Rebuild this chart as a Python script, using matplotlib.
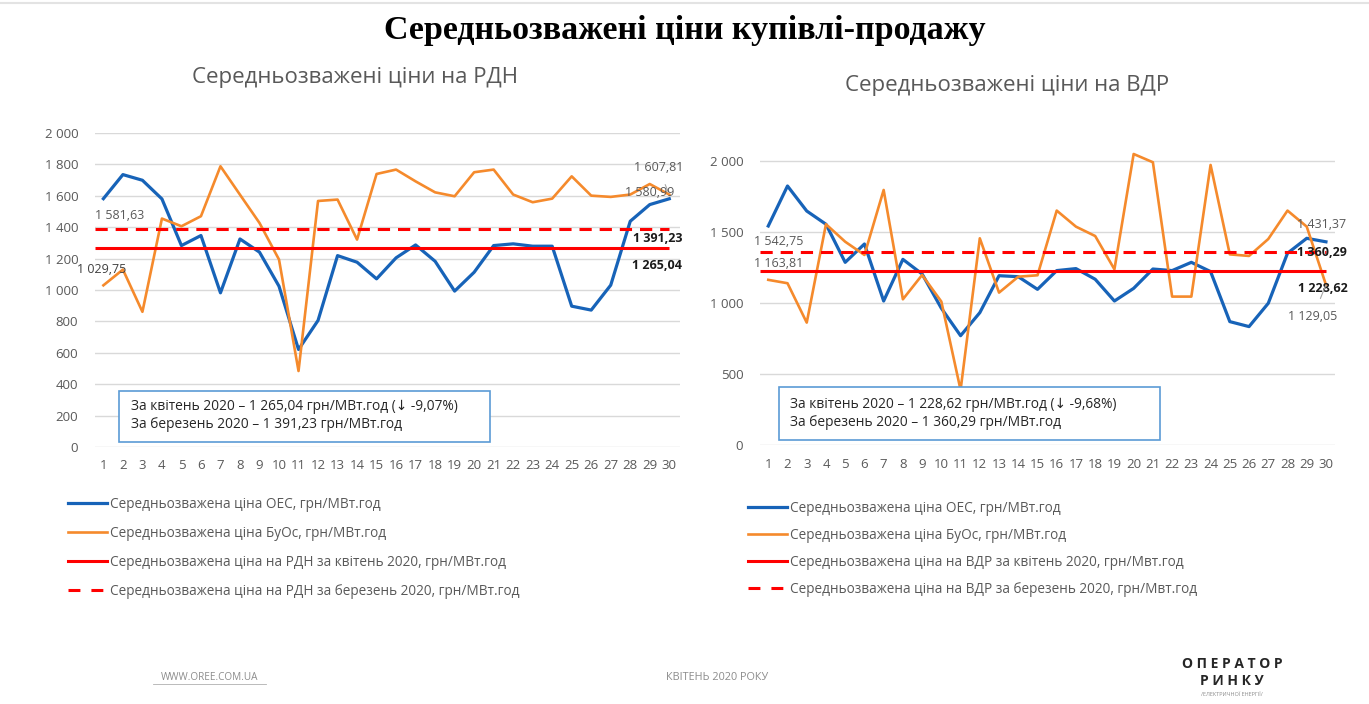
import matplotlib
matplotlib.use("Agg")
import matplotlib.pyplot as plt
from matplotlib.patches import Rectangle
from matplotlib.lines import Line2D
from matplotlib.ticker import FuncFormatter

plt.rcParams['font.family'] = ['Open Sans', 'DejaVu Sans']

W, H = 1369, 704

# дані
days = list(range(1, 31))

rdn_oes = [1581.63, 1735, 1699, 1580, 1283, 1347, 982, 1325, 1241, 1024,
           621, 806, 1219, 1177, 1071, 1205, 1287, 1183, 993, 1113,
           1283, 1294, 1279, 1279, 897, 872, 1031, 1438, 1544, 1580.99]
rdn_buos = [1029.75, 1130, 861, 1455, 1406, 1470, 1788, 1607, 1427, 1194,
            484, 1567, 1576, 1321, 1739, 1767, 1692, 1622, 1597, 1750,
            1767, 1608, 1559, 1582, 1724, 1601, 1593, 1608, 1675, 1607.81]
rdn_april = 1265.04
rdn_march = 1391.23

vdr_oes = [1542.75, 1824, 1648, 1555, 1287, 1416, 1015, 1308, 1205, 964,
           771, 933, 1193, 1186, 1097, 1229, 1243, 1168, 1015, 1104,
           1240, 1229, 1287, 1222, 870, 835, 999, 1351, 1456, 1431.37]
vdr_buos = [1163.81, 1140, 863, 1555, 1432, 1339, 1796, 1027, 1198, 1011,
            389, 1456, 1074, 1186, 1196, 1651, 1538, 1472, 1238, 2049,
            1991, 1046, 1046, 1972, 1343, 1332, 1451, 1651, 1538, 1129.05]
vdr_april = 1228.62
vdr_march = 1360.29

BLUE = '#1763B8'
ORANGE = '#F58A2C'
RED = '#FF0000'
GRAY = '#595959'
GRID = '#D9D9D9'


def fx(x):
    return x / W


def fy(y):
    return 1 - y / H


def fmt_num(v):
    s = f"{v:,.2f}".replace(",", " ").replace(".", ",")
    return s


def thousands(v, pos):
    return f"{int(v):,}".replace(",", " ")


fig = plt.figure(figsize=(W / 100, H / 100), dpi=100)
fig.patch.set_facecolor('white')

# тонка лінія зверху слайда
fig.add_artist(Line2D([0, 1], [fy(3), fy(3)], color='#E3E3E3', lw=1.5))

fig.text(0.5, fy(30), "Середньозважені ціни купівлі-продажу", ha='center', va='center',
         fontsize=24.5, fontweight='bold', family='Liberation Serif', color='black')


def setup_axes(ax, ymax, ystep, xlim):
    ax.set_xlim(*xlim)
    ax.set_ylim(0, ymax)
    ax.set_yticks(range(0, int(ymax) - int(ymax) % ystep + 1, ystep))
    ax.set_xticks(days)
    ax.yaxis.set_major_formatter(FuncFormatter(thousands))
    ax.grid(axis='y', color=GRID, lw=1, zorder=0)
    ax.set_axisbelow(True)
    for s in ax.spines.values():
        s.set_visible(False)
    ax.tick_params(length=0, labelsize=9.5, labelcolor=GRAY)
    ax.tick_params(axis='y', pad=12)
    ax.tick_params(axis='x', pad=9)


def draw_chart(ax, oes, buos, april, march, market, mwt, xlim):
    ax.plot(days, oes, color=BLUE, lw=2.3, zorder=3)
    ax.plot(days, buos, color=ORANGE, lw=1.9, zorder=3)
    ax.hlines(april, xlim[0], days[-1], color=RED, lw=2.2, zorder=4)
    ax.hlines(march, xlim[0], days[-1], color=RED, lw=2.2, zorder=4,
              linestyles=(0, (4, 2.6)))
    labels = [
        "Середньозважена ціна ОЕС, грн/МВт.год",
        "Середньозважена ціна БуОс, грн/МВт.год",
        f"Середньозважена ціна на {market} за квітень 2020, грн/{mwt}.год",
        f"Середньозважена ціна на {market} за березень 2020, грн/{mwt}.год",
    ]
    handles = [Line2D([], [], color=BLUE, lw=2.3),
               Line2D([], [], color=ORANGE, lw=1.9),
               Line2D([], [], color=RED, lw=2.2),
               Line2D([], [], color=RED, lw=2.2, dashes=(3.9, 3.6))]
    return handles, labels


# --- РДН ---
xl_l = (0.57, 30.55)
ax1 = fig.add_axes([fx(95), fy(447), fx(680 - 95), (447 - 133) / H])
setup_axes(ax1, 2000, 200, xl_l)
h1, lab1 = draw_chart(ax1, rdn_oes, rdn_buos, rdn_april, rdn_march, "РДН", "МВт", xl_l)
fig.text(fx(355), fy(78), "Середньозважені ціни на РДН", ha='center', va='center',
         fontsize=16, color=GRAY)

lab_kw = dict(textcoords='offset pixels', fontsize=9, zorder=6)
ax1.annotate(fmt_num(rdn_oes[0]), (days[0], rdn_oes[0]), xytext=(-8, -17),
             ha='left', va='center', color=GRAY, **lab_kw)
ax1.annotate(fmt_num(rdn_buos[0]), (days[0], rdn_buos[0]), xytext=(-2, 16),
             ha='center', va='center', color='#404040', **lab_kw)
ax1.annotate(fmt_num(rdn_buos[-1]), (days[-1], rdn_buos[-1]), xytext=(-11, 27),
             ha='center', va='center', color=GRAY,
             arrowprops=dict(arrowstyle='-', color='#A6A6A6', lw=0.8, shrinkA=6, shrinkB=2),
             **lab_kw)
ax1.annotate(fmt_num(rdn_oes[-1]), (days[-1], rdn_oes[-1]), xytext=(-20, 6),
             ha='center', va='center', color=GRAY, **lab_kw)
ax1.annotate(fmt_num(rdn_march), (days[-1], rdn_march), xytext=(13, -10),
             ha='right', va='center', color='#1A1A1A', fontweight='bold', **lab_kw)
ax1.annotate(fmt_num(rdn_april), (days[-1], rdn_april), xytext=(13, -17),
             ha='right', va='center', color='#1A1A1A', fontweight='bold', **lab_kw)

fig.add_artist(Rectangle((fx(119), fy(442)), fx(490 - 119), (442 - 391) / H,
                         transform=fig.transFigure, facecolor='white',
                         edgecolor='#5B9BD5', lw=1.2, zorder=5))
fig.text(fx(131), fy(406), "За квітень 2020 – 1 265,04 грн/МВт.год (↓ -9,07%)",
         ha='left', va='center', fontsize=9.9, color='#262626', zorder=6)
fig.text(fx(131), fy(425), "За березень 2020 – 1 391,23 грн/МВт.год",
         ha='left', va='center', fontsize=9.9, color='#262626', zorder=6)

fig.legend(h1, lab1, loc='upper left', bbox_to_anchor=(fx(68), fy(496.5)),
           frameon=False, fontsize=9.8, labelcolor=GRAY, handlelength=2.9,
           handletextpad=0.15, labelspacing=1.04, borderpad=0, borderaxespad=0)

# --- ВДР ---
xl_r = (0.57, 30.47)
ax2 = fig.add_axes([fx(760), fy(445.3), fx(1335 - 760), (445.3 - 149.6) / H])
setup_axes(ax2, 2080, 500, xl_r)
h2, lab2 = draw_chart(ax2, vdr_oes, vdr_buos, vdr_april, vdr_march, "ВДР", "Мвт", xl_r)
fig.text(fx(1007), fy(85), "Середньозважені ціни на ВДР", ha='center', va='center',
         fontsize=16, color=GRAY)

ax2.annotate(fmt_num(vdr_oes[0]), (days[0], vdr_oes[0]), xytext=(10, -16),
             ha='center', va='center', color=GRAY, **lab_kw)
ax2.annotate(fmt_num(vdr_buos[0]), (days[0], vdr_buos[0]), xytext=(10, 16),
             ha='center', va='center', color=GRAY, **lab_kw)
ax2.annotate(fmt_num(vdr_oes[-1]), (days[-1], vdr_oes[-1]), xytext=(-4, 17),
             ha='center', va='center', color=GRAY, **lab_kw)
ax2.annotate(fmt_num(vdr_march), (days[-1], vdr_march), xytext=(-4, -1),
             ha='center', va='center', color='#1A1A1A', fontweight='bold', **lab_kw)
ax2.annotate(fmt_num(vdr_april), (days[-1], vdr_april), xytext=(-3, -18),
             ha='center', va='center', color='#1A1A1A', fontweight='bold', **lab_kw)
ax2.annotate(fmt_num(vdr_buos[-1]), (days[-1], vdr_buos[-1]), xytext=(-13, -32),
             ha='center', va='center', color=GRAY,
             arrowprops=dict(arrowstyle='-', color='#A6A6A6', lw=0.8, shrinkA=7, shrinkB=12),
             **lab_kw)

fig.add_artist(Rectangle((fx(779), fy(440)), fx(1160 - 779), (440 - 387) / H,
                         transform=fig.transFigure, facecolor='white',
                         edgecolor='#5B9BD5', lw=1.2, zorder=5))
fig.text(fx(790), fy(404), "За квітень 2020 – 1 228,62 грн/МВт.год (↓ -9,68%)",
         ha='left', va='center', fontsize=9.9, color='#262626', zorder=6)
fig.text(fx(790), fy(423), "За березень 2020 – 1 360,29 грн/МВт.год",
         ha='left', va='center', fontsize=9.9, color='#262626', zorder=6)

fig.legend(h2, lab2, loc='upper left', bbox_to_anchor=(fx(748), fy(500.7)),
           frameon=False, fontsize=9.8, labelcolor=GRAY, handlelength=2.9,
           handletextpad=0.15, labelspacing=0.88, borderpad=0, borderaxespad=0)

# --- підвал ---
fig.text(fx(210), fy(677), "WWW.OREE.COM.UA", ha='center', va='center',
         fontsize=7.2, color='#8C8C8C')
fig.add_artist(Line2D([fx(153), fx(266)], [fy(684), fy(684)], color='#B0B0B0', lw=0.6))
fig.text(fx(717), fy(677), "КВІТЕНЬ 2020 РОКУ", ha='center', va='center',
         fontsize=7.8, color='#8C8C8C')
fig.text(fx(1232), fy(664), "О П Е Р А Т О Р", ha='center', va='center',
         fontsize=10, fontweight='bold', color='#262626')
fig.text(fx(1232), fy(681), "Р И Н К У", ha='center', va='center',
         fontsize=10, fontweight='bold', color='#262626')
fig.text(fx(1232), fy(694), "/ЕЛЕКТРИЧНОЇ ЕНЕРГІЇ/", ha='center', va='center',
         fontsize=4, color='#8C8C8C')

fig.savefig("out.png", dpi=100, facecolor='white')
